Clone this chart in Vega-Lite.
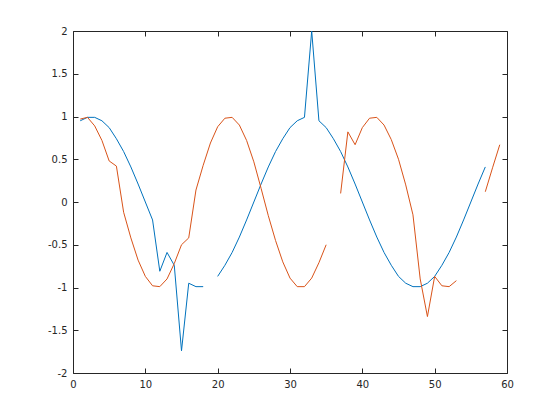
{
  "$schema": "https://vega.github.io/schema/vega-lite/v6.json",
  "width": 434,
  "height": 342,
  "autosize": {"type": "none"},
  "padding": {"left": 73, "top": 31, "right": 53, "bottom": 47},
  "background": "white",
  "config": {
    "view": {"stroke": null},
    "axis": {
      "grid": false,
      "domainColor": "#262626",
      "tickColor": "#262626",
      "labelColor": "#262626",
      "labelFont": "DejaVu Sans",
      "labelFontSize": 10,
      "labelFlush": false,
      "labelOverlap": false,
      "tickSize": -5,
      "title": null
    }
  },
  "datasets": {
    "blue": [
      {"x": 1, "y": 0.95, "seg": 1}, {"x": 2, "y": 0.99, "seg": 1}, {"x": 3, "y": 0.99, "seg": 1}, {"x": 4, "y": 0.95, "seg": 1},
      {"x": 5, "y": 0.87, "seg": 1}, {"x": 6, "y": 0.74, "seg": 1}, {"x": 7, "y": 0.59, "seg": 1}, {"x": 8, "y": 0.41, "seg": 1},
      {"x": 9, "y": 0.21, "seg": 1}, {"x": 10, "y": 0.0, "seg": 1}, {"x": 11, "y": -0.21, "seg": 1}, {"x": 12, "y": -0.81, "seg": 1},
      {"x": 13, "y": -0.59, "seg": 1}, {"x": 14, "y": -0.74, "seg": 1}, {"x": 15, "y": -1.74, "seg": 1}, {"x": 16, "y": -0.95, "seg": 1},
      {"x": 17, "y": -0.99, "seg": 1}, {"x": 18, "y": -0.99, "seg": 1}, {"x": 20, "y": -0.87, "seg": 2},
      {"x": 21, "y": -0.74, "seg": 2}, {"x": 22, "y": -0.59, "seg": 2}, {"x": 23, "y": -0.41, "seg": 2}, {"x": 24, "y": -0.21, "seg": 2},
      {"x": 25, "y": 0.0, "seg": 2}, {"x": 26, "y": 0.21, "seg": 2}, {"x": 27, "y": 0.41, "seg": 2}, {"x": 28, "y": 0.59, "seg": 2},
      {"x": 29, "y": 0.74, "seg": 2}, {"x": 30, "y": 0.87, "seg": 2}, {"x": 31, "y": 0.95, "seg": 2}, {"x": 32, "y": 0.99, "seg": 2},
      {"x": 33, "y": 2.0, "seg": 2}, {"x": 34, "y": 0.95, "seg": 2}, {"x": 35, "y": 0.87, "seg": 2}, {"x": 36, "y": 0.74, "seg": 2},
      {"x": 37, "y": 0.59, "seg": 2}, {"x": 38, "y": 0.41, "seg": 2}, {"x": 39, "y": 0.21, "seg": 2}, {"x": 40, "y": 0.0, "seg": 2},
      {"x": 41, "y": -0.21, "seg": 2}, {"x": 42, "y": -0.41, "seg": 2}, {"x": 43, "y": -0.59, "seg": 2}, {"x": 44, "y": -0.74, "seg": 2},
      {"x": 45, "y": -0.87, "seg": 2}, {"x": 46, "y": -0.95, "seg": 2}, {"x": 47, "y": -0.99, "seg": 2}, {"x": 48, "y": -0.99, "seg": 2},
      {"x": 49, "y": -0.95, "seg": 2}, {"x": 50, "y": -0.87, "seg": 2}, {"x": 51, "y": -0.74, "seg": 2}, {"x": 52, "y": -0.59, "seg": 2},
      {"x": 53, "y": -0.41, "seg": 2}, {"x": 54, "y": -0.21, "seg": 2}, {"x": 55, "y": 0.0, "seg": 2}, {"x": 56, "y": 0.21, "seg": 2},
      {"x": 57, "y": 0.41, "seg": 2}
    ],
    "red": [
      {"x": 1, "y": 0.97, "seg": 1}, {"x": 2, "y": 0.99, "seg": 1}, {"x": 3, "y": 0.89, "seg": 1}, {"x": 4, "y": 0.72, "seg": 1},
      {"x": 5, "y": 0.48, "seg": 1}, {"x": 6, "y": 0.42, "seg": 1}, {"x": 7, "y": -0.12, "seg": 1}, {"x": 8, "y": -0.42, "seg": 1},
      {"x": 9, "y": -0.68, "seg": 1}, {"x": 10, "y": -0.87, "seg": 1}, {"x": 11, "y": -0.98, "seg": 1}, {"x": 12, "y": -0.99, "seg": 1},
      {"x": 13, "y": -0.9, "seg": 1}, {"x": 14, "y": -0.72, "seg": 1}, {"x": 15, "y": -0.5, "seg": 1}, {"x": 16, "y": -0.42, "seg": 1},
      {"x": 17, "y": 0.14, "seg": 1}, {"x": 18, "y": 0.43, "seg": 1}, {"x": 19, "y": 0.69, "seg": 1}, {"x": 20, "y": 0.88, "seg": 1},
      {"x": 21, "y": 0.98, "seg": 1}, {"x": 22, "y": 0.99, "seg": 1}, {"x": 23, "y": 0.9, "seg": 1}, {"x": 24, "y": 0.72, "seg": 1},
      {"x": 25, "y": 0.47, "seg": 1}, {"x": 26, "y": 0.16, "seg": 1}, {"x": 27, "y": -0.16, "seg": 1}, {"x": 28, "y": -0.45, "seg": 1},
      {"x": 29, "y": -0.7, "seg": 1}, {"x": 30, "y": -0.89, "seg": 1}, {"x": 31, "y": -0.99, "seg": 1}, {"x": 32, "y": -0.99, "seg": 1},
      {"x": 33, "y": -0.89, "seg": 1}, {"x": 34, "y": -0.71, "seg": 1}, {"x": 35, "y": -0.5, "seg": 1},
      {"x": 37, "y": 0.1, "seg": 2}, {"x": 38, "y": 0.82, "seg": 2}, {"x": 39, "y": 0.67, "seg": 2}, {"x": 40, "y": 0.87, "seg": 2},
      {"x": 41, "y": 0.98, "seg": 2}, {"x": 42, "y": 0.99, "seg": 2}, {"x": 43, "y": 0.9, "seg": 2}, {"x": 44, "y": 0.73, "seg": 2},
      {"x": 45, "y": 0.5, "seg": 2}, {"x": 46, "y": 0.2, "seg": 2}, {"x": 47, "y": -0.15, "seg": 2}, {"x": 48, "y": -0.9, "seg": 2},
      {"x": 49, "y": -1.34, "seg": 2}, {"x": 50, "y": -0.87, "seg": 2}, {"x": 51, "y": -0.98, "seg": 2}, {"x": 52, "y": -0.99, "seg": 2},
      {"x": 53, "y": -0.92, "seg": 2},
      {"x": 57, "y": 0.12, "seg": 3}, {"x": 58, "y": 0.4, "seg": 3}, {"x": 59, "y": 0.67, "seg": 3}
    ]
  },
  "layer": [
    {
      "data": {"name": "blue"},
      "mark": {"type": "line", "color": "#0072BD", "strokeWidth": 1},
      "encoding": {
        "x": {"field": "x", "type": "quantitative", "scale": {"domain": [0, 60], "nice": false},
              "axis": {"orient": "top", "values": [0, 10, 20, 30, 40, 50, 60], "labels": false}},
        "y": {"field": "y", "type": "quantitative", "scale": {"domain": [-2, 2], "nice": false, "zero": false},
              "axis": {"orient": "right", "values": [-2, -1.5, -1, -0.5, 0, 0.5, 1, 1.5, 2], "labels": false}},
        "detail": {"field": "seg", "type": "nominal"}
      }
    },
    {
      "data": {"name": "red"},
      "mark": {"type": "line", "color": "#D95319", "strokeWidth": 1},
      "encoding": {
        "x": {"field": "x", "type": "quantitative", "scale": {"domain": [0, 60], "nice": false},
              "axis": {"orient": "bottom", "values": [0, 10, 20, 30, 40, 50, 60], "labelPadding": 11}},
        "y": {"field": "y", "type": "quantitative", "scale": {"domain": [-2, 2], "nice": false, "zero": false},
              "axis": {"orient": "left", "values": [-2, -1.5, -1, -0.5, 0, 0.5, 1, 1.5, 2], "labelExpr": "'' + datum.value", "labelPadding": 11}},
        "detail": {"field": "seg", "type": "nominal"}
      }
    }
  ],
  "resolve": {"scale": {"x": "independent", "y": "independent"}, "axis": {"x": "independent", "y": "independent"}}
}
